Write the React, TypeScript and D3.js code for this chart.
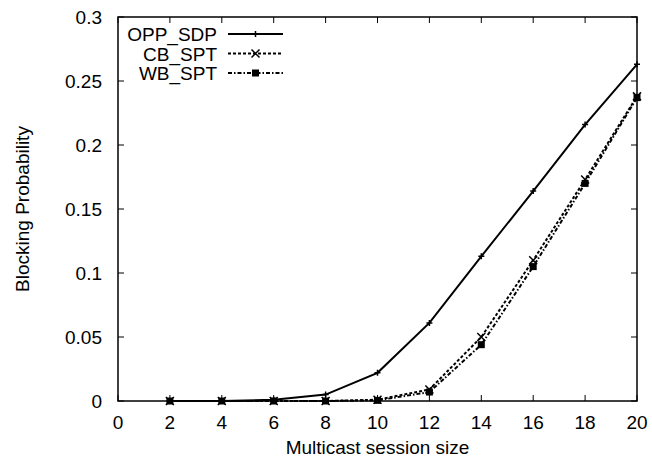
import React, { useEffect, useRef } from 'react';
import * as d3 from 'd3';

const sessionSizes = [2, 4, 6, 8, 10, 12, 14, 16, 18, 20];
const oppSdp = [0, 0, 0.001, 0.005, 0.022, 0.061, 0.113, 0.164, 0.216, 0.263];
const cbSpt = [0, 0, 0, 0, 0.001, 0.009, 0.05, 0.11, 0.173, 0.238];
const wbSpt = [0, 0, 0, 0, 0.0005, 0.007, 0.044, 0.105, 0.17, 0.237];
const seriesNames = ['OPP_SDP', 'CB_SPT', 'WB_SPT'];
const xTicks = [0, 2, 4, 6, 8, 10, 12, 14, 16, 18, 20];
const yTicks = [0, 0.05, 0.1, 0.15, 0.2, 0.25, 0.3];

const App = () => {
  const svgRef = useRef<SVGSVGElement>(null);

  useEffect(() => {
    const width = 652;
    const height = 462;
    const left = 118, right = 637, top = 17, bottom = 401;
    const font = '"Liberation Sans", Arial, sans-serif';

    const svg = d3.select(svgRef.current);
    svg.selectAll('*').remove();
    svg.attr('width', width).attr('height', height);

    const x = d3.scaleLinear().domain([0, 20]).range([left, right]);
    const y = d3.scaleLinear().domain([0, 0.3]).range([bottom, top]);

    const g = svg.append('g');

    // ticks (inward, mirrored on top and right)
    xTicks.forEach(t => {
      g.append('line').attr('x1', x(t)).attr('x2', x(t)).attr('y1', bottom).attr('y2', bottom - 6)
        .attr('stroke', '#000').attr('stroke-width', 1);
      g.append('line').attr('x1', x(t)).attr('x2', x(t)).attr('y1', top).attr('y2', top + 6)
        .attr('stroke', '#000').attr('stroke-width', 1);
      g.append('text').attr('x', x(t)).attr('y', bottom + 28)
        .attr('text-anchor', 'middle').style('font-family', font).style('font-size', '19px')
        .text(String(t));
    });
    yTicks.forEach(t => {
      g.append('line').attr('x1', left).attr('x2', left + 6).attr('y1', y(t)).attr('y2', y(t))
        .attr('stroke', '#000').attr('stroke-width', 1);
      g.append('line').attr('x1', right).attr('x2', right - 6).attr('y1', y(t)).attr('y2', y(t))
        .attr('stroke', '#000').attr('stroke-width', 1);
      g.append('text').attr('x', left - 16).attr('y', y(t) + 7)
        .attr('text-anchor', 'end').style('font-family', font).style('font-size', '19px')
        .text(String(t));
    });

    g.append('rect').attr('x', left).attr('y', top).attr('width', right - left).attr('height', bottom - top)
      .attr('fill', 'none').attr('stroke', '#000').attr('stroke-width', 1.5);

    g.append('text').attr('x', (left + right) / 2).attr('y', 454)
      .attr('text-anchor', 'middle').style('font-family', font).style('font-size', '19px')
      .text('Multicast session size');
    g.append('text').attr('transform', `translate(29, ${(top + bottom) / 2}) rotate(-90)`)
      .attr('text-anchor', 'middle').style('font-family', font).style('font-size', '19px')
      .text('Blocking Probability');

    const line = d3.line<number>().x((_, i) => x(sessionSizes[i])).y(d => y(d));
    const dashes = [null, '3,2', '4,2,1.5,2'];
    const data = [oppSdp, cbSpt, wbSpt];

    const marker = (sel: any, cx: number, cy: number, k: number) => {
      if (k === 0) {
        sel.append('path').attr('d', `M${cx - 3},${cy}H${cx + 3}M${cx},${cy - 3}V${cy + 3}`)
          .attr('stroke', '#000').attr('stroke-width', 1.5);
      } else if (k === 1) {
        sel.append('path').attr('d', `M${cx - 4},${cy - 4}L${cx + 4},${cy + 4}M${cx - 4},${cy + 4}L${cx + 4},${cy - 4}`)
          .attr('stroke', '#000').attr('stroke-width', 1.5);
      } else {
        sel.append('rect').attr('x', cx - 3.5).attr('y', cy - 3.5).attr('width', 7).attr('height', 7)
          .attr('fill', '#000');
      }
    };

    data.forEach((vals, k) => {
      const p = g.append('path').datum(vals).attr('d', line).attr('fill', 'none')
        .attr('stroke', '#000').attr('stroke-width', 2);
      if (dashes[k]) p.attr('stroke-dasharray', dashes[k]);
      vals.forEach((v, i) => marker(g, x(sessionSizes[i]), y(v), k));
    });

    // legend
    seriesNames.forEach((name, k) => {
      const ly = 34 + k * 19.5;
      g.append('text').attr('x', 217).attr('y', ly + 7).attr('text-anchor', 'end')
        .style('font-family', font).style('font-size', '19px').text(name);
      const l = g.append('line').attr('x1', 228).attr('x2', 283).attr('y1', ly).attr('y2', ly)
        .attr('stroke', '#000').attr('stroke-width', 2);
      if (dashes[k]) l.attr('stroke-dasharray', dashes[k]);
      marker(g, 255.5, ly, k);
    });
  }, []);

  return <svg ref={svgRef} style={{ position: 'absolute', left: 0, top: 0 }}></svg>;
};

export default App;
